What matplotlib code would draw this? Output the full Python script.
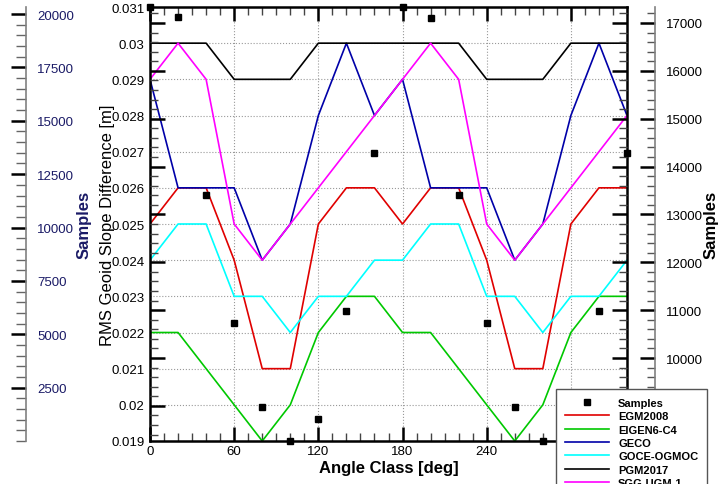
import numpy as np
import matplotlib.pyplot as plt
from matplotlib.ticker import MultipleLocator, FuncFormatter

plt.rcParams['font.family'] = ['Liberation Sans', 'DejaVu Sans']

# angle classes [deg]
angle = list(range(0, 360, 20))

# samples per angle class (right axis)
samples = [17330, 17120, 13400, 10730, 8980, 8270, 8730, 10980, 14280,
           17330, 17110, 13400, 10730, 8980, 8270, 8730, 10980, 14280]

# RMS geoid slope difference [m]
egm2008 = [0.025, 0.026, 0.026, 0.024, 0.021, 0.021, 0.025, 0.026, 0.026,
           0.025, 0.026, 0.026, 0.024, 0.021, 0.021, 0.025, 0.026, 0.026]
eigen6c4 = [0.022, 0.022, 0.021, 0.020, 0.019, 0.020, 0.022, 0.023, 0.023,
            0.022, 0.022, 0.021, 0.020, 0.019, 0.020, 0.022, 0.023, 0.023]
geco = [0.029, 0.026, 0.026, 0.026, 0.024, 0.025, 0.028, 0.030, 0.028,
        0.029, 0.026, 0.026, 0.026, 0.024, 0.025, 0.028, 0.030, 0.028]
goce_ogmoc = [0.024, 0.025, 0.025, 0.023, 0.023, 0.022, 0.023, 0.023, 0.024,
              0.024, 0.025, 0.025, 0.023, 0.023, 0.022, 0.023, 0.023, 0.024]
pgm2017 = [0.030, 0.030, 0.030, 0.029, 0.029, 0.029, 0.030, 0.030, 0.030,
           0.030, 0.030, 0.030, 0.029, 0.029, 0.029, 0.030, 0.030, 0.030]
sgg_ugm1 = [0.029, 0.030, 0.029, 0.025, 0.024, 0.025, 0.026, 0.027, 0.028,
            0.029, 0.030, 0.029, 0.025, 0.024, 0.025, 0.026, 0.027, 0.028]

models = ['EGM2008', 'EIGEN6-C4', 'GECO', 'GOCE-OGMOC', 'PGM2017', 'SGG-UGM-1']
series = [egm2008, eigen6c4, geco, goce_ogmoc, pgm2017, sgg_ugm1]
colors = ['#e00000', '#00c800', '#0000a8', '#00ffff', '#000000', '#ff00ff']

navy = '#1a1a66'

fig = plt.figure(figsize=(7.26, 4.85), dpi=100)
ax = fig.add_axes([150/726, 43/485, 477/726, 434/485])

handles = []
for vals, name, c in zip(series, models, colors):
    h, = ax.plot(angle, vals, color=c, lw=1.2, label=name)
    handles.append(h)

ax.set_xlim(0, 340)
ax.set_ylim(0.019, 0.031)
ax.xaxis.set_major_locator(MultipleLocator(60))
ax.xaxis.set_minor_locator(MultipleLocator(10))
ax.yaxis.set_major_locator(MultipleLocator(0.001))
ax.yaxis.set_major_formatter(FuncFormatter(lambda v, p: '%g' % round(v, 4)))
ax.grid(True, which='major', color='#999999', ls=':', lw=0.8)
ax.tick_params(axis='x', which='both', direction='in', top=True, labelsize=9.5, pad=3)
ax.tick_params(axis='x', which='major', length=10, width=1.8)
ax.tick_params(axis='x', which='minor', length=6, width=1, color='#444444')
ax.tick_params(axis='y', which='both', length=0, labelsize=9.5, pad=4)
for s in ax.spines.values():
    s.set_linewidth(1.8)
ax.set_xlabel('Angle Class [deg]', fontsize=12, fontweight='bold', labelpad=2)
ax.set_ylabel('RMS Geoid Slope Difference [m]', fontsize=12)
ax.yaxis.set_label_coords(-0.073, 0.5)

# samples axis ticks mirrored on the main frame
ax2 = ax.twinx()
ax2.set_ylim(8266, 17334)
ax2.yaxis.set_major_locator(MultipleLocator(1000))
ax2.yaxis.set_minor_locator(MultipleLocator(200))
ax2.yaxis.set_ticks_position('both')
ax2.tick_params(which='both', direction='in', labelleft=False, labelright=False)
ax2.tick_params(which='major', length=11, width=1.8)
ax2.tick_params(which='minor', length=6, width=1, color='#444444')
for s in ax2.spines.values():
    s.set_visible(False)

# labelled samples axis on the right
ax3 = ax.twinx()
ax3.set_ylim(8266, 17334)
for k in ['left', 'top', 'bottom']:
    ax3.spines[k].set_visible(False)
ax3.spines['right'].set_position(('axes', 1.0587))
ax3.spines['right'].set_color('#808080')
ax3.spines['right'].set_linewidth(1.2)
ax3.yaxis.set_major_locator(MultipleLocator(1000))
ax3.yaxis.set_minor_locator(MultipleLocator(200))
ax3.tick_params(which='both', direction='in', labelsize=9.5, pad=8)
ax3.tick_params(which='major', length=11, width=1.8)
ax3.tick_params(which='minor', length=6, width=1, color='#555555')
ax3.set_ylabel('Samples', fontsize=12, fontweight='bold')
ax3.yaxis.set_label_coords(1.161, 0.5)
hs, = ax3.plot(angle, samples, ls='none', marker='s', ms=5, color='black',
               clip_on=False, label='Samples')

# far-left samples axis
ax4 = ax.twinx()
ax4.set_ylim(0, 20330)
for k in ['left', 'top', 'bottom']:
    ax4.spines[k].set_visible(False)
ax4.spines['right'].set_position(('axes', -0.26))
ax4.spines['right'].set_color('#808080')
ax4.spines['right'].set_linewidth(1.2)
ax4.yaxis.set_major_locator(MultipleLocator(2500))
ax4.yaxis.set_minor_locator(MultipleLocator(500))
ax4.set_yticks([2500, 5000, 7500, 10000, 12500, 15000, 17500, 20000])
ax4.tick_params(which='both', direction='in', labelsize=9.5, pad=8, labelcolor=navy)
ax4.tick_params(which='major', length=11, width=1.8)
ax4.tick_params(which='minor', length=7, width=1, color='#666666')
ax4.set_ylabel('Samples', fontsize=12, fontweight='bold', color=navy)
ax4.yaxis.set_label_coords(-0.153, 0.5)

fig.legend([hs] + handles, ['Samples'] + models, loc='upper left',
           bbox_to_anchor=(556/726, 1 - 390/485), borderaxespad=0,
           prop={'weight': 'bold', 'size': 8}, frameon=True,
           fancybox=False, framealpha=1, edgecolor='#555555',
           handlelength=4.0, handletextpad=0.8, labelspacing=0.3,
           borderpad=0.8)

fig.savefig('out.png', dpi=100)
